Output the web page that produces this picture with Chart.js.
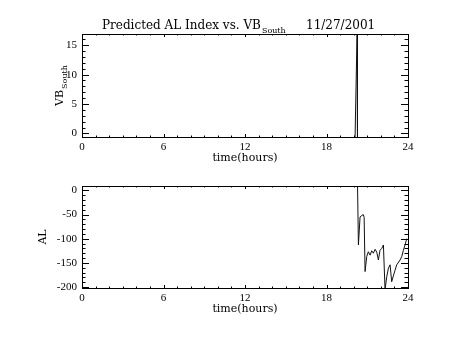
<!DOCTYPE html>
<html>
<head>
<meta charset="utf-8">
<script src="https://cdn.jsdelivr.net/npm/chart.js@4/dist/chart.umd.min.js"></script>
<style>
  body { margin: 0; background: #fff; }
  #wrap { position: relative; width: 454px; height: 341px; background: #fff; }
  canvas { position: absolute; left: 0; }
</style>
</head>
<body>
<div id="wrap">
  <canvas id="vb-chart" width="454" height="170" style="top:0;width:454px;height:170px"></canvas>
  <canvas id="al-chart" width="454" height="171" style="top:170px;width:454px;height:171px"></canvas>
</div>
<script>
// time axis
const xTicks = [0, 6, 12, 18, 24]

// VB south (top panel)
const vbTicks = [0, 5, 10, 15]
const vbHours = [20.10, 20.26, 20.28]
const vbValues = [-1, 18, -1]

// predicted AL (bottom panel)
const alTicks = [0, -50, -100, -150, -200]
const alHours = [20.28, 20.35, 20.47, 20.60, 20.71, 20.77, 20.84, 20.96, 21.08, 21.21, 21.33, 21.45,
                 21.58, 21.70, 21.82, 21.94, 22.07, 22.19, 22.31, 22.44, 22.56, 22.68, 22.80, 22.92,
                 23.05, 23.17, 23.42, 23.54, 23.66, 23.78, 23.91]
const alValues = [20, -113, -55, -52, -50, -56, -168, -137, -127, -134, -125, -130,
                  -122, -128, -144, -124, -120, -113, -205, -178, -161, -154, -189, -177,
                  -165, -154, -144, -137, -124, -113, -100]

const FONT = 'Liberation Serif'
const WIDE = 'DejaVu Serif'
const INK = '#000'

function drawSub(ctx, main, sub, x, y, size, family)
{
    ctx.font = size + 'px "' + family + '"'
    ctx.fillText(main, x, y)
    const w = ctx.measureText(main).width
    ctx.font = Math.round(size * 0.7) + 'px "' + family + '"'
    ctx.fillText(sub, x + w + 1, y + size * 0.35)
    return w + 1 + ctx.measureText(sub).width
}

// box + inward IDL style ticks on all four sides
const idlFrame = {
    id: 'idlFrame',
    afterDraw(chart, args, opts)
    {
        const ctx = chart.ctx
        const a = chart.chartArea
        const x = chart.scales.x
        const y = chart.scales.y
        ctx.save()
        ctx.strokeStyle = INK
        ctx.lineWidth = 1
        ctx.strokeRect(Math.round(a.left) + 0.5, Math.round(a.top) + 0.5,
                       Math.round(a.right - a.left), Math.round(a.bottom - a.top))
        ctx.beginPath()
        const nx = Math.round((x.max - x.min) / opts.xMinor)
        for (let i = 0; i <= nx; i++) {
            const v = x.min + i * opts.xMinor
            const px = Math.round(x.getPixelForValue(v)) + 0.5
            const len = (Math.abs(v % opts.xMajor) < 1e-6) ? 3 : 1.5
            ctx.moveTo(px, a.bottom); ctx.lineTo(px, a.bottom - len)
            ctx.moveTo(px, a.top); ctx.lineTo(px, a.top + len)
        }
        const start = Math.ceil(y.min / opts.yMinor) * opts.yMinor
        for (let v = start; v <= y.max + 1e-6; v += opts.yMinor) {
            const py = Math.round(y.getPixelForValue(v)) + 0.5
            const len = (Math.abs(v % opts.yMajor) < 1e-6) ? 7 : 3.5
            ctx.moveTo(a.left, py); ctx.lineTo(a.left + len, py)
            ctx.moveTo(a.right, py); ctx.lineTo(a.right - len, py)
        }
        ctx.stroke()

        // titles
        ctx.fillStyle = INK
        ctx.textBaseline = 'alphabetic'
        ctx.textAlign = 'left'
        if (opts.title) {
            drawSub(ctx, 'Predicted AL Index vs. VB', 'South', 102, 29, 12, WIDE)
            ctx.font = '12px "' + WIDE + '"'
            ctx.fillText('11/27/2001', 306, 29)
        }
        ctx.font = '11px "' + WIDE + '"'
        ctx.textAlign = 'center'
        ctx.fillText('time(hours)', (a.left + a.right) / 2, a.bottom + 24)

        ctx.save()
        ctx.translate(opts.yTitleX, (a.top + a.bottom) / 2)
        ctx.rotate(-Math.PI / 2)
        ctx.textAlign = 'left'
        ctx.font = '11px "' + WIDE + '"'
        let w = ctx.measureText(opts.yTitle).width
        if (opts.ySub) {
            ctx.font = '8px "' + WIDE + '"'
            w += 1 + ctx.measureText(opts.ySub).width
            drawSub(ctx, opts.yTitle, opts.ySub, -w / 2, 4, 11, WIDE)
        } else {
            ctx.fillText(opts.yTitle, -w / 2, 4)
        }
        ctx.restore()
        ctx.restore()
    }
}

function makeChart(id, hours, values, yTicks, yMin, yMax, frame, padTop, xHeight)
{
    return new Chart(id, {
        type: 'line',
        data: {
            datasets: [{
                data: hours.map((h, i) => ({ x: h, y: values[i] })),
                borderColor: '#111',
                borderWidth: 1,
                pointRadius: 0,
                tension: 0,
                fill: false
            }]
        },
        options: {
            responsive: false,
            animation: false,
            events: [],
            layout: { padding: { top: padTop, right: 46, left: 0, bottom: 0 } },
            plugins: {
                legend: { display: false },
                tooltip: { enabled: false },
                idlFrame: frame
            },
            scales: {
                x: {
                    type: 'linear',
                    min: 0,
                    max: 24,
                    grid: { display: false, drawTicks: false },
                    border: { display: false },
                    afterBuildTicks: s => { s.ticks = xTicks.map(v => ({ value: v })) },
                    afterFit: s => { s.height = xHeight },
                    ticks: {
                        padding: 4,
                        maxRotation: 0,
                        color: INK,
                        font: { family: FONT, size: 11 },
                        callback: v => String(v)
                    }
                },
                y: {
                    type: 'linear',
                    min: yMin,
                    max: yMax,
                    grid: { display: false, drawTicks: false },
                    border: { display: false },
                    afterBuildTicks: s => { s.ticks = yTicks.map(v => ({ value: v })) },
                    afterFit: s => { s.width = 82 },
                    ticks: {
                        padding: 5,
                        color: INK,
                        font: { family: FONT, size: 11 },
                        callback: v => String(v)
                    }
                }
            }
        },
        plugins: [idlFrame]
    })
}

makeChart('vb-chart', vbHours, vbValues, vbTicks, -0.6, 16.9,
    { title: true, xMinor: 1, xMajor: 6, yMinor: 1, yMajor: 5, yTitle: 'VB', ySub: 'South', yTitleX: 59 },
    34, 33)

makeChart('al-chart', alHours, alValues, alTicks, -202, 9,
    { title: false, xMinor: 1, xMajor: 6, yMinor: 10, yMajor: 50, yTitle: 'AL', ySub: '', yTitleX: 42 },
    16, 53)
</script>
</body>
</html>
